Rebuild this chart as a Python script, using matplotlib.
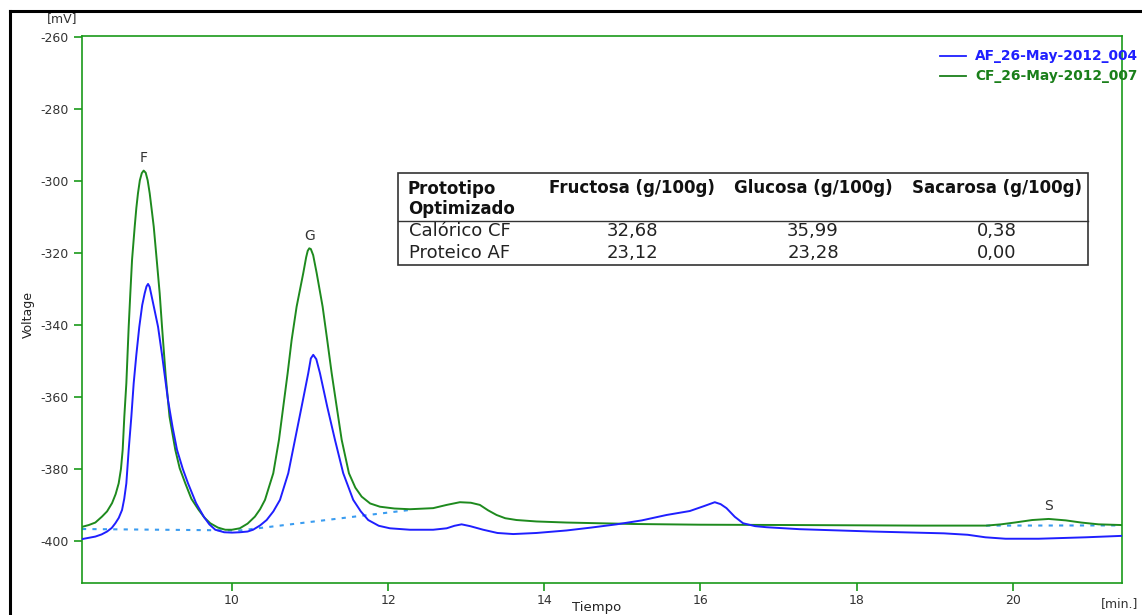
import matplotlib
matplotlib.use("Agg")
import matplotlib.pyplot as plt
from matplotlib.lines import Line2D
from matplotlib.patches import Rectangle

plt.rcParams['axes.unicode_minus'] = False

# ---------------- data ----------------
af_time = [8.079, 8.25, 8.33, 8.40, 8.46, 8.506, 8.55, 8.592, 8.62, 8.647, 8.677, 8.711, 8.741, 8.775,
           8.813, 8.85, 8.882, 8.905, 8.925, 8.945, 8.963, 9.0, 9.053, 9.104, 9.18, 9.24, 9.296, 9.37,
           9.437, 9.54, 9.638, 9.71, 9.786, 9.9, 10.0, 10.1, 10.2, 10.27, 10.36, 10.444, 10.53,
           10.615, 10.721, 10.807, 10.892, 10.977, 11.01, 11.041, 11.08, 11.127, 11.220, 11.319,
           11.425, 11.553, 11.65, 11.745, 11.88, 12.023, 12.279, 12.577, 12.75, 12.85, 12.941, 13.05,
           13.218, 13.40, 13.602, 13.9, 14.286, 14.6, 14.926, 15.25, 15.566, 15.864, 16.05, 16.184,
           16.26, 16.334, 16.44, 16.547, 16.70, 16.846, 17.273, 18.207, 19.117, 19.424, 19.65,
           19.908, 20.333, 20.935, 21.40]
af_mv = [-399.5, -398.8, -398.2, -397.4, -396.4, -395.1, -393.6, -391.4, -388.3, -384.0, -374.7, -365.5, -356.2, -348.3,
         -340.5, -334.5, -331.2, -329.3, -328.6, -329.4, -331.2, -335.0, -340.5, -348.3, -360.8, -368.5, -374.7, -380.0,
         -384.0, -389.5, -393.25, -395.4, -396.9, -397.6, -397.7, -397.6, -397.4, -396.9, -395.7, -394.2, -391.8,
         -388.6, -381.2, -371.9, -362.7, -353.4, -349.3, -348.3, -349.5, -353.4, -362.7, -371.9,
         -381.2, -388.6, -391.8, -394.2, -395.8, -396.5, -396.9, -396.9, -396.5, -395.8, -395.4, -395.9,
         -396.9, -397.8, -398.1, -397.8, -397.1, -396.3, -395.4, -394.3, -392.8, -391.7, -390.3, -389.25,
         -389.8, -390.9, -393.3, -395.1, -395.9, -396.2, -396.75, -397.4, -397.9, -398.3, -399.0,
         -399.4, -399.4, -399.0, -398.6]

cf_time = [8.079, 8.165, 8.25, 8.335, 8.40, 8.464, 8.51, 8.549, 8.578, 8.60, 8.621, 8.647, 8.677, 8.698,
           8.720, 8.754, 8.775, 8.796, 8.82, 8.845, 8.869, 8.895, 8.92, 8.946, 8.972, 8.998, 9.036,
           9.074, 9.104, 9.15, 9.20, 9.274, 9.33, 9.402, 9.48, 9.574, 9.65, 9.722, 9.82, 9.914, 10.0,
           10.10, 10.20, 10.294, 10.36, 10.423, 10.47, 10.529, 10.602, 10.657, 10.713, 10.764, 10.828,
           10.913, 10.95, 10.97, 10.99, 11.01, 11.04, 11.085, 11.161, 11.220, 11.277, 11.341, 11.405,
           11.498, 11.58, 11.661, 11.77, 11.895, 12.08, 12.279, 12.577, 12.75, 12.919, 13.06, 13.175,
           13.28, 13.389, 13.5, 13.645, 13.9, 14.286, 15.138, 15.992, 17.273, 18.82, 19.664, 19.85,
           20.026, 20.25, 20.461, 20.68, 20.877, 21.1, 21.40]
cf_mv = [-396.1, -395.6, -394.9, -393.25, -391.8, -389.5, -387.0, -384.0, -380.0, -374.7, -365.5, -356.2, -340.5, -331.2,
         -321.9, -312.7, -307.5, -303.4, -299.8, -297.8, -297.1, -297.7, -299.8, -303.4, -308.0, -312.7, -321.9,
         -331.2, -340.5, -353.9, -365.5, -374.7, -379.8, -384.0, -388.3, -391.4, -393.6, -395.1, -396.3, -396.9, -396.9,
         -396.5, -395.2, -393.25, -391.2, -388.6, -385.3, -381.2, -371.9, -362.7, -353.4, -344.2, -334.9,
         -325.6, -321.2, -319.4, -318.7, -318.9, -320.6, -325.6, -334.9, -344.2, -353.4, -362.7, -371.9,
         -381.2, -385.2, -387.7, -389.6, -390.5, -391.0, -391.2, -390.9, -390.0, -389.25, -389.4, -390.0,
         -391.5, -392.8, -393.7, -394.2, -394.6, -394.9, -395.3, -395.5, -395.6, -395.75, -395.75, -395.4,
         -394.9, -394.2, -393.9, -394.3, -394.9, -395.4, -395.6]

base1_time = [8.079, 10.1, 12.28]
base1_mv = [-396.7, -397.1, -391.4]
base2_time = [19.66, 21.40]
base2_mv = [-395.75, -395.7]

peak_labels = ["F", "G", "S"]
peak_time = [8.87, 10.99, 20.46]
peak_mv = [-297.1, -318.7, -393.9]

legend_names = ["AF_26-May-2012_004", "CF_26-May-2012_007"]

xticks = [10, 12, 14, 16, 18, 20]
yticks = [-400, -380, -360, -340, -320, -300, -280, -260]

table_header = ["Prototipo\nOptimizado", "Fructosa (g/100g)", "Glucosa (g/100g)", "Sacarosa (g/100g)"]
table_rows = ["Calórico CF", "Proteico AF"]
fructosa = ["32,68", "23,12"]
glucosa = ["35,99", "23,28"]
sacarosa = ["0,38", "0,00"]

# ---------------- figure ----------------
W, H = 1142, 615
fig = plt.figure(figsize=(W / 100, H / 100), dpi=100)

def fx(px):
    return px / W

def fy(py):
    return 1 - py / H

ax = fig.add_axes([fx(82), fy(583), fx(1122) - fx(82), fy(36) - fy(583)])

BLUE = "#1f1fff"
GREEN = "#1e8a1e"
DASH = "#3a9cf0"
AXG = "#1a9a1a"

ax.plot(base1_time, base1_mv, color=DASH, lw=1.5, ls=(0, (2, 3)), zorder=1)
ax.plot(base2_time, base2_mv, color=DASH, lw=1.5, ls=(0, (2, 3)), zorder=1)
ax.plot(af_time, af_mv, color=BLUE, lw=1.4, zorder=3, solid_joinstyle="round")
ax.plot(cf_time, cf_mv, color=GREEN, lw=1.4, zorder=2, solid_joinstyle="round")

ax.set_xlim(8.079, 21.40)
ax.set_ylim(-411.7, -259.7)
ax.set_xticks(xticks)
ax.set_yticks(yticks)
ax.set_xticklabels([str(t) for t in xticks])
ax.set_yticklabels([str(t) for t in yticks])
for s in ax.spines.values():
    s.set_color(AXG)
    s.set_linewidth(1.2)
ax.tick_params(axis='both', colors=AXG, labelcolor="#333333", labelsize=9, length=6, width=1.2)
ax.tick_params(axis='x', pad=2)

for lab, t, v in zip(peak_labels, peak_time, peak_mv):
    ax.annotate(lab, (t, v), xytext=(0, 4), textcoords="offset points", ha="center", va="bottom",
                fontsize=10, color="#333333")

# axis texts
fig.text(fx(62), fy(19), "[mV]", ha="center", va="center", fontsize=9, color="#333333")
fig.text(fx(28), fy(315), "Voltage", ha="center", va="center", rotation=90, fontsize=9, color="#222222")
fig.text(fx(597), fy(607), "Tiempo", ha="center", va="center", fontsize=9.5, color="#222222")
fig.text(fx(1120), fy(604), "[min.]", ha="center", va="center", fontsize=9, color="#333333")

# legend
for i, (name, col) in enumerate(zip(legend_names, [BLUE, "#1a7f1a"])):
    yy = 56 + 20 * i
    fig.add_artist(Line2D([fx(940), fx(966)], [fy(yy), fy(yy)], color=col, lw=1.3))
    fig.text(fx(975), fy(yy), name, ha="left", va="center", fontsize=9.9, color=col,
             family="DejaVu Sans", fontweight="bold")

# table
fig.add_artist(Rectangle((fx(398), fy(265)), fx(1088) - fx(398), fy(173) - fy(265),
                         fill=False, ec="#333333", lw=1.2, transform=fig.transFigure))
fig.add_artist(Line2D([fx(398), fx(1088)], [fy(221), fy(221)], color="#333333", lw=1.0))
col_x = [408, 632, 813, 997]
fig.text(fx(col_x[0]), fy(199), table_header[0], ha="left", va="center", fontsize=12,
         fontweight="bold", family="DejaVu Sans", color="#111111", linespacing=1.2)
for cx, h in zip(col_x[1:], table_header[1:]):
    fig.text(fx(cx), fy(188), h, ha="center", va="center", fontsize=12, fontweight="bold",
             family="DejaVu Sans", color="#111111")
for i, rname in enumerate(table_rows):
    yy = 231 + 22 * i
    fig.text(fx(col_x[0] + 1), fy(yy), rname, ha="left", va="center", fontsize=13,
             family="DejaVu Sans", color="#222222")
    for cx, v in zip(col_x[1:], [fructosa[i], glucosa[i], sacarosa[i]]):
        fig.text(fx(cx), fy(yy), v, ha="center", va="center", fontsize=13,
                 family="DejaVu Sans", color="#222222")

# outer black frame (left and top)
fig.add_artist(Line2D([fx(10), fx(10)], [fy(11), 0], color="black", lw=2.2))
fig.add_artist(Line2D([fx(10), 1], [fy(11), fy(11)], color="black", lw=2.2))

fig.savefig("out.png", dpi=100)
